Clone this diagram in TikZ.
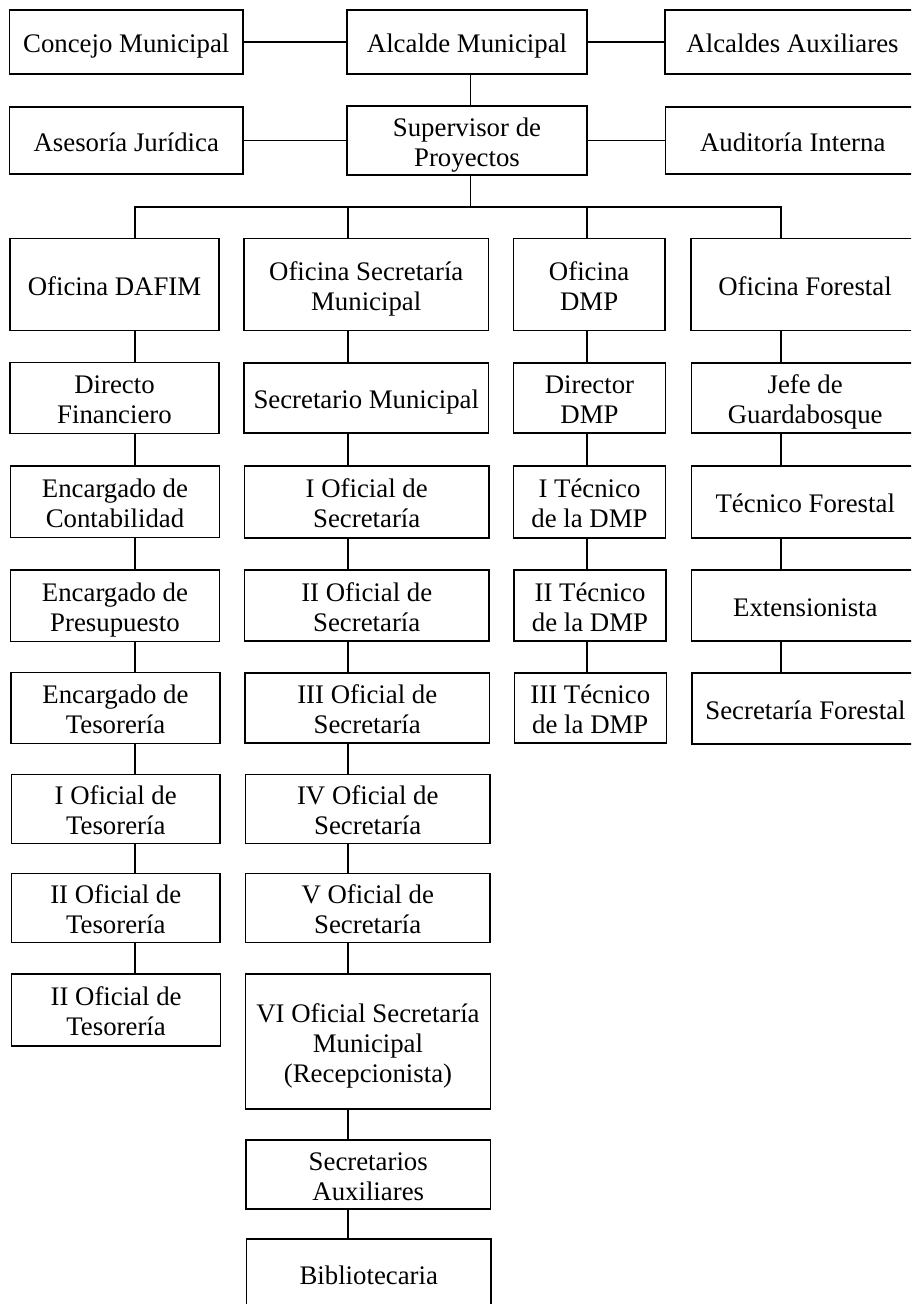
\documentclass[tikz,border=0pt]{standalone}
\usepackage{fontspec}
\setmainfont{Liberation Serif}
\tikzset{
  box/.style={draw=black, line width=1.3pt, inner sep=0pt,
    font=\fontsize{26.8}{30}\selectfont},
  link/.style={draw=black, line width=1.3pt}
}
\newcommand{\bx}[6]{%
  \node[box, minimum width={(#4-#2)*1pt}, minimum height={(#5-#3)*1pt}]
    (#1) at ({(#2+#4)/2},{-(#3+#5)/2})
    {\begin{tabular}{@{}c@{}}\rule{0pt}{30pt}#6\end{tabular}};}
\begin{document}
\begin{tikzpicture}[x=1pt,y=1pt]
\useasboundingbox (0,0) rectangle (911,-1304);
\fill[white] (0,0) rectangle (911,-1304);
\clip (0,0) rectangle (911,-1304);
% top rows
\bx{concejo}{9.5}{10}{243}{74}{Concejo Municipal}
\bx{alcalde}{347}{10}{587}{74}{Alcalde Municipal}
\bx{auxil}{665}{10}{920}{74}{Alcaldes Auxiliares}
\bx{asesoria}{9.5}{107}{243}{174}{Asesoría Jurídica}
\bx{super}{347}{107}{587}{174}{Supervisor de\\Proyectos}
\bx{audit}{665.5}{107}{920}{174}{Auditoría Interna}
% column 1
\bx{dafim}{10}{238.7}{219}{330.7}{Oficina DAFIM}
\bx{dirfin}{10}{362.7}{219}{433.3}{Directo\\Financiero}
\bx{conta}{10.5}{466}{219.5}{537.7}{Encargado de\\Contabilidad}
\bx{presu}{10.5}{570}{219.5}{641.3}{Encargado de\\Presupuesto}
\bx{teso}{11}{672.7}{220}{743.3}{Encargado de\\Tesorería}
\bx{ofteso}{11.5}{775}{220}{842.7}{I Oficial de\\Tesorería}
\bx{iiteso}{11.5}{874}{220}{942.3}{II Oficial de\\Tesorería}
\bx{iitesob}{11.7}{974}{220.5}{1046}{II Oficial de\\Tesorería}
% column 2
\bx{secofi}{244}{238.7}{488.5}{330.7}{Oficina Secretaría\\Municipal}
\bx{secmun}{244}{363}{488.5}{433}{Secretario Municipal}
\bx{isec}{244.5}{466}{489}{538}{I Oficial de\\Secretaría}
\bx{iisec}{244.5}{570}{489}{641}{II Oficial de\\Secretaría}
\bx{iiisec}{245}{673}{489.5}{743}{III Oficial de\\Secretaría}
\bx{ivsec}{245.5}{775}{490}{843}{IV Oficial de\\Secretaría}
\bx{vsec}{245.5}{874}{490}{942}{V Oficial de\\Secretaría}
\bx{visec}{245.7}{974}{490.3}{1109}{VI Oficial Secretaría\\Municipal\\(Recepcionista)}
\bx{secaux}{246}{1141}{490.5}{1208}{Secretarios\\Auxiliares}
\bx{biblio}{246.5}{1239}{491}{1309}{Bibliotecaria}
% column 3
\bx{dmp}{513.3}{238.7}{665}{330.7}{Oficina\\DMP}
\bx{dirdmp}{513.5}{363}{665.5}{433}{Director\\DMP}
\bx{itec}{513.5}{466}{665.5}{538}{I Técnico\\de la DMP}
\bx{iitec}{514}{570}{666}{641}{II Técnico\\de la DMP}
\bx{iiitec}{514.3}{673}{666.3}{743}{III Técnico\\de la DMP}
% column 4
\bx{forestal}{691}{238.7}{919}{330.7}{Oficina Forestal}
\bx{jefe}{691.3}{363}{919}{433}{Jefe de\\Guardabosque}
\bx{tecfor}{691.5}{466}{919}{538}{Técnico Forestal}
\bx{exten}{691.7}{570}{919}{641}{Extensionista}
\bx{secfor}{692}{673}{919}{744}{Secretaría Forestal}
% connector columns
\coordinate (cA) at (470.5,0);
\coordinate (c1) at (135,0);
\coordinate (c2) at (348,0);
\coordinate (c3) at (587,0);
\coordinate (c4) at (781,0);
\coordinate (bus) at (0,-207);
% top links
\draw[link] (concejo.east) -- (alcalde.west);
\draw[link] (alcalde.east) -- (auxil.west);
\draw[link] (asesoria.east) -- (super.west);
\draw[link] (super.east) -- (audit.west);
\draw[link] (alcalde.south -| cA) -- (super.north -| cA);
\draw[link] (super.south -| cA) -- (cA |- bus);
\draw[link] (dafim.north -| c1) -- (c1 |- bus) -- (c4 |- bus) -- (forestal.north -| c4);
\draw[link] (secofi.north -| c2) -- (c2 |- bus);
\draw[link] (dmp.north -| c3) -- (c3 |- bus);
% column 1 links
\foreach \a/\b in {dafim/dirfin, dirfin/conta, conta/presu, presu/teso, teso/ofteso, ofteso/iiteso, iiteso/iitesob}
  \draw[link] (\a.south -| c1) -- (\b.north -| c1);
% column 2 links
\foreach \a/\b in {secofi/secmun, secmun/isec, isec/iisec, iisec/iiisec, iiisec/ivsec, ivsec/vsec, vsec/visec, visec/secaux, secaux/biblio}
  \draw[link] (\a.south -| c2) -- (\b.north -| c2);
% column 3 links
\foreach \a/\b in {dmp/dirdmp, dirdmp/itec, itec/iitec, iitec/iiitec}
  \draw[link] (\a.south -| c3) -- (\b.north -| c3);
% column 4 links
\foreach \a/\b in {forestal/jefe, jefe/tecfor, tecfor/exten, exten/secfor}
  \draw[link] (\a.south -| c4) -- (\b.north -| c4);
\end{tikzpicture}
\end{document}
